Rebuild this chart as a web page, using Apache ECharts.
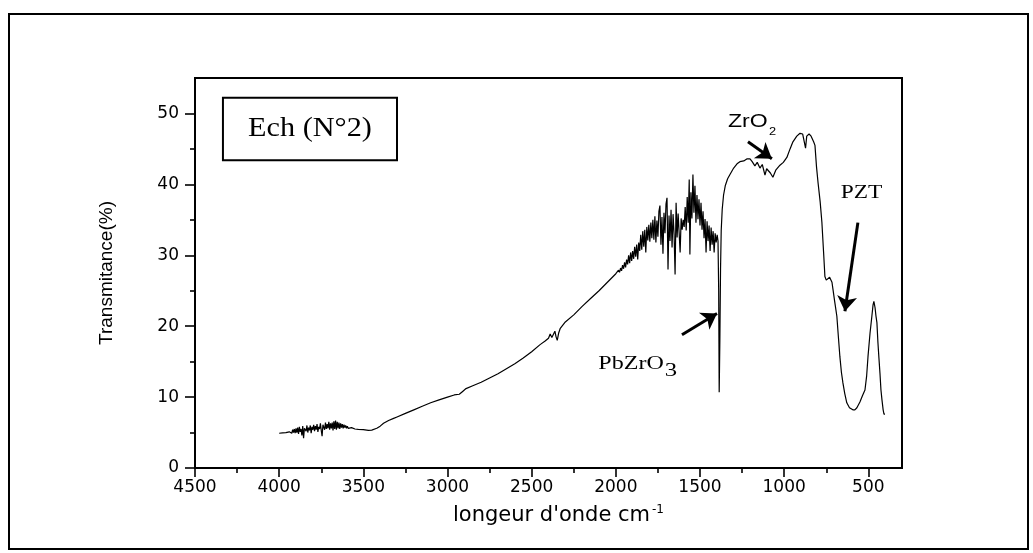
<!DOCTYPE html>
<html><head><meta charset="utf-8">
<script src="https://cdn.jsdelivr.net/npm/echarts@6/dist/echarts.min.js"></script>
<style>html,body{margin:0;padding:0;background:#fff;} #c{width:1033px;height:553px;}</style>
</head><body><div id="c"></div>
<script>
// ---- data ----
const wavenumbers = [
4000,3980,3960,3940,3930,3925,3920,3915,3910,3905,
3900,3895,3890,3885,3880,3875,3870,3865,3860,3855,
3850,3845,3840,3835,3830,3825,3820,3815,3810,3805,
3800,3795,3790,3785,3780,3775,3770,3765,3760,3755,
3750,3745,3740,3735,3730,3725,3720,3715,3710,3705,
3700,3695,3690,3685,3680,3675,3670,3665,3660,3655,
3650,3645,3640,3635,3630,3625,3620,3615,3610,3605,
3600,3595,3590,3585,3580,3570,3560,3550,3530,3500,
3470,3450,3420,3400,3380,3350,3320,3300,3250,3200,
3150,3100,3050,3000,2960,2930,2920,2910,2890,2850,
2800,2750,2700,2650,2600,2550,2500,2450,2420,2400,
2390,2380,2370,2362,2355,2348,2340,2330,2300,2250,
2200,2150,2100,2050,2000,1996,1990,1984,1978,1972,
1966,1960,1954,1948,1942,1936,1930,1924,1918,1912,
1906,1900,1894,1888,1882,1876,1870,1864,1858,1852,
1846,1840,1834,1828,1822,1816,1810,1804,1798,1792,
1786,1780,1774,1768,1762,1756,1750,1744,1738,1732,
1726,1720,1714,1708,1702,1696,1690,1684,1678,1672,
1666,1660,1654,1648,1642,1636,1630,1624,1618,1612,
1606,1600,1594,1588,1582,1576,1570,1564,1560,1554,
1548,1542,1536,1530,1524,1518,1512,1506,1500,1494,
1488,1482,1476,1470,1464,1458,1452,1446,1440,1434,
1428,1422,1416,1410,1404,1398,1393,1389,1386,1382,
1378,1374,1368,1360,1350,1336,1322,1300,1280,1263,
1240,1220,1203,1190,1174,1160,1144,1130,1114,1104,
1096,1082,1067,1050,1025,1005,984,965,948,925,
906,890,880,873,866,852,840,825,817,808,
799,786,776,766,758,750,740,730,722,716,
710,700,687,678,669,660,651,640,628,612,
592,580,568,550,535,520,510,502,490,479,
472,467,460,455,449,443,437,431,425,419,
412,407,401
];
const transmittance = [
4.9,4.95,5.0,5.1,5.3,4.9,5.4,5.0,5.5,4.9,
5.6,5.0,5.7,4.8,5.8,5.1,5.5,4.6,5.9,4.2,
5.6,5.8,5.2,6.0,5.0,5.7,5.3,6.0,4.9,5.8,
5.4,6.1,5.2,5.9,5.4,6.2,5.1,5.8,5.5,6.3,
5.3,4.5,6.1,6.0,5.4,6.4,5.5,6.2,5.6,6.5,
5.4,6.3,5.6,6.4,5.3,6.6,5.5,6.7,5.4,6.5,
5.6,6.4,5.5,6.3,5.7,6.2,5.6,6.1,5.7,6.0,
5.6,5.9,5.6,5.8,5.6,5.7,5.6,5.5,5.45,5.4,
5.3,5.35,5.6,5.9,6.3,6.7,7.0,7.2,7.7,8.2,
8.7,9.2,9.6,10.0,10.3,10.4,10.5,10.8,11.2,11.6,
12.1,12.7,13.3,14.0,14.7,15.5,16.4,17.4,17.9,18.3,
18.9,18.4,18.2,19.3,18.5,18.0,19.0,19.7,20.6,21.6,
22.8,23.9,25.0,26.2,27.4,27.6,27.3,27.9,27.6,28.2,
27.8,28.6,28.1,29.0,28.3,29.4,28.7,30.0,28.9,30.4,
29.2,30.6,29.5,31.2,29.8,31.5,29.4,31.8,30.6,32.9,
30.8,33.4,31.2,33.6,30.4,34.0,32.1,34.3,31.9,34.6,
32.4,35.0,32.2,35.5,31.8,34.9,32.6,36.2,37.0,31.5,
35.4,30.2,36.0,33.1,37.2,38.1,28.0,35.6,32.0,36.4,
31.1,35.8,33.0,27.3,37.4,32.5,35.9,33.2,30.4,35.2,
33.6,35.0,34.0,36.8,33.5,38.2,34.6,40.7,30.1,38.9,
35.2,41.4,36.0,39.8,34.6,38.5,35.1,37.9,34.2,37.4,
33.6,36.2,32.4,35.1,30.4,34.8,32.0,34.2,30.6,33.9,
31.5,33.4,30.4,33.1,31.8,32.9,32.0,25.0,10.7,18.0,
28.0,33.5,36.5,38.5,39.8,40.8,41.4,42.3,42.9,43.2,
43.3,43.6,43.6,43.2,42.6,43.1,42.3,42.8,41.3,42.2,
42.2,41.6,41.0,42.0,42.7,43.1,43.8,45.0,46.0,46.8,
47.2,47.1,46.9,45.1,46.8,47.1,46.8,46.0,45.5,42.5,
40.3,37.5,34.7,30.5,27.0,26.5,26.4,26.9,27.1,26.2,
25.2,23.5,21.4,18.5,15.7,13.5,12.0,10.5,9.2,8.5,
8.2,8.2,8.5,9.3,10.2,11.0,13.0,15.7,19.0,21.4,
23.0,23.5,22.6,21.5,20.5,17.7,15.5,13.4,11.0,9.6,
8.2,7.6,7.6
];
const xMajorTicks = [500,1000,1500,2000,2500,3000,3500,4000,4500];
const xMinorTicks = [750,1250,1750,2250,2750,3250,3750,4250];
const yMajorTicks = [0,10,20,30,40,50];
const yMinorTicks = [5,15,25,35,45];
const xTitle = "longeur d'onde cm";
const xTitleSup = "-1";
const yTitle = "Transmitance(%)";
const sampleLabel = "Ech (N°2)";
// arrows: [fromWavenumber, fromT, toWavenumber, toT]
const arrowZrO2 = [1215, 46.0, 1073, 43.6];
const arrowPZT = [562, 34.6, 639, 22.1];
const arrowPbZrO3 = [1607, 18.8, 1399, 21.8];

const SANS = '"Liberation Sans", Arial, Helvetica, sans-serif';
const SERIF = '"Liberation Serif", "Times New Roman", Times, serif';
const chart = echarts.init(document.getElementById('c'), null, {renderer:'canvas'});
const tickStyle = {color:'#000', width:1.6};
const labelFont = {fontFamily:'DejaVu Sans', fontSize:17, color:'#000', formatter:(v)=>String(v)};
const option = {
  animation:false,
  backgroundColor:'#fff',
  grid:{left:195, right:131, top:78, bottom:85, show:true, borderColor:'#000', borderWidth:2, backgroundColor:'transparent'},
  xAxis:[
    {type:'value', inverse:true, min:300, max:4500,
     name: xTitle + '{sup|' + xTitleSup + '}', nameLocation:'middle', nameGap:36,
     nameTextStyle:{fontFamily:'DejaVu Sans', fontSize:21, color:'#000', padding:[0,0,0,20],
       rich:{sup:{fontFamily:'DejaVu Sans', fontSize:12, color:'#000', verticalAlign:'top', padding:[0,0,12,2]}}},
     axisLine:{show:true, onZero:false, lineStyle:{color:'#000', width:2}},
     axisTick:{show:true, customValues:xMajorTicks, length:9, lineStyle:tickStyle},
     axisLabel:Object.assign({customValues:xMajorTicks, margin:11}, labelFont),
     splitLine:{show:false}},
    {type:'value', inverse:true, min:300, max:4500, position:'bottom', offset:0,
     axisLine:{show:false},
     axisTick:{show:true, customValues:xMinorTicks, length:5, lineStyle:tickStyle},
     axisLabel:{show:false}, splitLine:{show:false}}
  ],
  yAxis:[
    {type:'value', min:0, max:55,
     name: yTitle, nameLocation:'middle', nameGap:79,
     nameTextStyle:{fontFamily:SANS, fontSize:19, color:'#000'},
     axisLine:{show:true, onZero:false, lineStyle:{color:'#000', width:2}},
     axisTick:{show:true, customValues:yMajorTicks, length:10, lineStyle:tickStyle},
     axisLabel:Object.assign({customValues:yMajorTicks, margin:16}, labelFont),
     splitLine:{show:false}},
    {type:'value', min:0, max:55, position:'left', offset:0,
     axisLine:{show:false},
     axisTick:{show:true, customValues:yMinorTicks, length:5, lineStyle:tickStyle},
     axisLabel:{show:false}, splitLine:{show:false}}
  ],
  series:[{
    type:'line', xAxisIndex:0, yAxisIndex:0,
    data: wavenumbers.map((w,i)=>[w, transmittance[i]]),
    symbol:'none', showSymbol:false, smooth:false,
    lineStyle:{color:'#000', width:1.2},
    emphasis:{disabled:true},
    markLine:{
      silent:true, symbol:['none','arrow'], symbolSize:15,
      label:{show:false},
      lineStyle:{color:'#000', width:3, type:'solid'},
      emphasis:{disabled:true},
      data:[arrowZrO2, arrowPZT, arrowPbZrO3].map(a=>[{coord:[a[0],a[1]]},{coord:[a[2],a[3]]}])
    }
  }]
};
chart.setOption(option);

function px(x,y){ return chart.convertToPixel({xAxisIndex:0, yAxisIndex:0},[x,y]); }
const b1 = px(4334, 52.2), b2 = px(3300, 43.4);
const pEch = px(3817, 47.8);
const pZr = px(1334, 48.75);
const pPZT = px(541, 38.75);
const pPb = px(2104, 14.7);
chart.setOption({graphic:[
  {type:'rect', shape:{x:9, y:14, width:1019, height:535}, style:{fill:'none', stroke:'#000', lineWidth:2}, silent:true},
  {type:'rect', shape:{x:b1[0], y:b1[1], width:b2[0]-b1[0], height:b2[1]-b1[1]}, style:{fill:'#fff', stroke:'#000', lineWidth:2}, silent:true},
  {type:'text', x:pEch[0], y:pEch[1], scaleX:1.12, silent:true,
   style:{text:sampleLabel, fontFamily:SERIF, fontSize:27, fill:'#000', align:'center', verticalAlign:'middle'}},
  {type:'group', x:pZr[0], y:pZr[1], scaleX:1.28, silent:true, children:[
    {type:'text', x:0, y:0, style:{text:'ZrO', fontFamily:SANS, fontSize:18, fill:'#000', align:'left', verticalAlign:'middle'}},
    {type:'text', x:32, y:10, style:{text:'2', fontFamily:SANS, fontSize:10, fill:'#000', align:'left', verticalAlign:'middle'}}
  ]},
  {type:'text', x:pPZT[0], y:pPZT[1], scaleX:1.3, silent:true,
   style:{text:'PZT', fontFamily:SERIF, fontSize:18, fill:'#000', align:'center', verticalAlign:'middle'}},
  {type:'group', x:pPb[0], y:pPb[1], scaleX:1.3, silent:true, children:[
    {type:'text', x:0, y:0, style:{text:'PbZrO', fontFamily:SERIF, fontSize:18.5, fill:'#000', align:'left', verticalAlign:'middle'}},
    {type:'text', x:51, y:7, style:{text:'3', fontFamily:SERIF, fontSize:19, fill:'#000', align:'left', verticalAlign:'middle'}}
  ]}
]});
</script>
</body></html>
